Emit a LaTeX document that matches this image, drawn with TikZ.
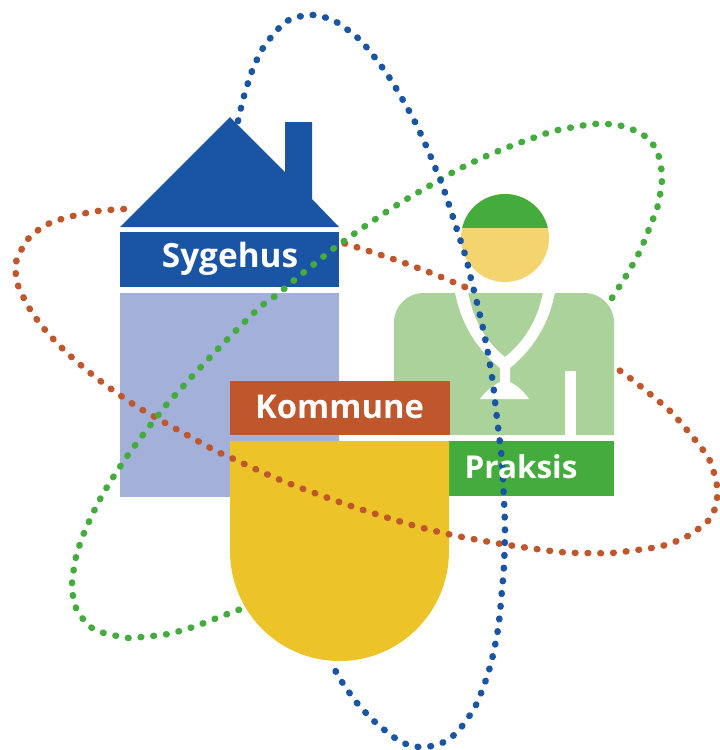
\documentclass[tikz,border=0pt]{standalone}
\usepackage{fontspec}
\setmainfont{Open Sans}
\definecolor{hblue}{HTML}{1A55A5}
\definecolor{hlight}{HTML}{A3B0D9}
\definecolor{korange}{HTML}{C0562B}
\definecolor{kyellow}{HTML}{ECC42A}
\definecolor{pgreen}{HTML}{43AC3C}
\definecolor{plight}{HTML}{ACD29B}
\definecolor{phead}{HTML}{F3D46F}
\tikzset{
  label text/.style={text=white,font=\fontsize{#1}{28}\selectfont\bfseries,inner sep=0pt},
  orbit/.style={line width=4.9pt,line cap=round,dash pattern=on 0.5pt off 9.07pt},
}
\begin{document}
\begin{tikzpicture}[x=0.75pt,y=-0.75pt]
\useasboundingbox (0,0) rectangle (719,750);
% house
\fill[hlight] (120,293) rectangle (339,497);
\fill[hblue] (120,227) -- (230,117) -- (285,172) -- (285,122) -- (312,122) -- (312,199) -- (339,227) -- cycle;
\fill[hblue] (120,232) rectangle (339,287);
% person
\fill[plight] (394,435) -- (394,323) .. controls (394,306) and (407,293) .. (424,293) -- (584,293) .. controls (601,293) and (614,306) .. (614,323) -- (614,435) -- cycle;
\fill[white] (565,371) rectangle (576,436);
\fill[white] (455,292) .. controls (461,325) and (478,350) .. (500,368) -- (500,382) .. controls (492,386) and (485,392) .. (480,399) -- (529,399) .. controls (524,392) and (518,386) .. (510,382) -- (510,368) .. controls (532,350) and (549,325) .. (555,292) -- (543,292) .. controls (538,320) and (524,342) .. (505,357) .. controls (486,342) and (473,320) .. (468,292) -- cycle;
\fill[phead] (505,238) circle[radius=44];
\begin{scope}
  \clip (450,190) rectangle (560,227);
  \fill[pgreen] (505,238) circle[radius=44];
\end{scope}
\fill[pgreen] (449,441) rectangle (614,496);
% municipality
\fill[kyellow] (230,441) -- (449,441) -- (449,551) .. controls (449,612) and (400,661) .. (339.5,661) .. controls (279,661) and (230,612) .. (230,551) -- cycle;
\fill[korange] (230,381) rectangle (450,435);
% orbits
\draw[orbit,korange] plot[smooth] coordinates {(124,209) (98,211) (73,216) (48,224) (28,239) (16,262) (16,275) (19,288) (31,311) (46,331) (64,350) (83,367) (103,383) (124,398) (146,412) (214,450) (225,455) (273,477) (309,491) (345,504) (382,516) (419,527) (457,536) (508,545) (560,552) (585,553) (611,553) (637,550) (662,546) (686,537) (707,522) (714,511) (717,499) (717,486) (714,473) (710,461) (703,450) (687,430) (670,411) (650,394) (630,378) (619,370)};
\draw[orbit,korange] plot[smooth] coordinates {(465,287) (441,277) (418,268) (393,259) (356,247) (343,243)};
\draw[orbit,pgreen] plot[smooth] coordinates {(612,298) (626,276) (639,253) (649,229) (658,205) (662,180) (661,167) (658,154) (652,143) (642,134) (631,129) (618,125) (606,124) (593,124) (580,126) (554,131) (530,139) (506,148) (482,158) (459,169) (436,182) (397,205) (358,231) (349,238) (338,245) (318,261) (298,277) (278,294) (258,309) (213,354) (168,403) (160,413) (152,423) (128,455) (107,487) (95,509) (84,533) (76,557) (72,583) (73,596) (76,608) (83,619) (92,628) (104,633) (117,636) (129,638) (142,637) (168,634) (193,627) (217,618) (241,609)};
\draw[orbit,hblue] plot[smooth] coordinates {(238,121) (241,108) (244,96) (252,71) (263,48) (279,28) (289,20) (302,16) (314,15) (327,18) (338,23) (359,39) (376,59) (391,80) (404,102) (416,124) (427,148) (437,172) (442,184) (450,208) (458,233) (466,258) (472,283) (478,307) (484,333) (489,359) (493,384) (496,410) (499,435) (502,461) (504,500) (505,530) (504,565) (502,590) (498,629) (490,667) (477,703) (463,725) (454,735) (444,742) (432,746) (419,747) (406,744) (395,738) (375,722) (357,703) (342,682) (335,670)};
% labels
\node[label text=25] (sygehus) at (230,259) {Sygehus};
\node[label text=24.6] (kommune) at (339.5,407) {Kommune};
\node[label text=23.6] (praksis) at (521,467) {Praksis};
\end{tikzpicture}
\end{document}
